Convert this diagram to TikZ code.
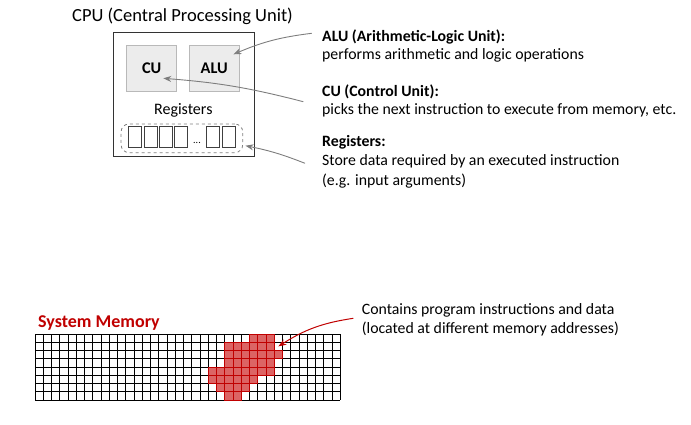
\documentclass[tikz,border=0pt]{standalone}
\usepackage{fontspec}
\setmainfont{Carlito}
\usetikzlibrary{arrows.meta}

\definecolor{boxgray}{RGB}{236,236,236}
\definecolor{edgegray}{RGB}{185,185,185}
\definecolor{arrowgray}{RGB}{125,125,125}
\definecolor{memred}{RGB}{192,0,0}
\definecolor{cellred}{RGB}{220,100,100}

\begin{document}
\begin{tikzpicture}[x=1pt,y=-1pt,
    unit/.style={draw=edgegray,fill=boxgray,line width=0.8pt,minimum width=49.7pt,minimum height=46pt,font=\fontsize{16.3}{18}\selectfont\bfseries},
    reg/.style={draw=black!75,line width=0.8pt,minimum width=13pt,minimum height=21.7pt,inner sep=0pt},
    note/.style={anchor=west,inner sep=0pt,font=\fontsize{15.8}{18}\selectfont},
    notehead/.style={note,font=\fontsize{15.8}{18}\selectfont\bfseries},
    pointer/.style={draw=arrowgray,line width=0.9pt,-{Stealth[length=8pt,width=6pt]}}]
                \useasboundingbox (0,0) rectangle (691,424);
                % CPU
                \node (cputitle) at (182.5,16) {\fontsize{18.5}{20}\selectfont CPU (Central Processing Unit)};
                \node[draw=black!80, line width=1pt, minimum width=141pt, minimum height=124pt] (cpu) at (183.6,94) {};
                \node[unit] (cu) at (151.7,68.7) {CU};
                \node[unit] (alu) at (214.2,68.7) {ALU};
                \node[font=\fontsize{16}{18}\selectfont] (reglabel) at (183.3,110.7) {Registers};
                \node[draw=gray, dashed, line width=0.8pt, rounded corners=8pt, minimum width=121.7pt, minimum height=28.7pt] (regs) at (181.9,138.3) {};
                \foreach \i/\xc in {1/135,2/150.4,3/165.8,4/181.2,5/213,6/228.4}
                    \node[reg] (r\i) at (\xc,136.9) {};
                \node[inner sep=0pt, font=\fontsize{10}{10}\selectfont] (rdots) at (197,142.5) {...};
                % notes
                \node[notehead] (alutitle) at (322,37) {ALU (Arithmetic-Logic Unit):};
                \node[note] (alutext) at (322,55) {performs arithmetic and logic operations};
                \node[notehead] (cutitle) at (322,91.7) {CU (Control Unit):};
                \node[note] (cutext) at (322,110) {picks the next instruction to execute from memory, etc.};
                \node[notehead] (regtitle) at (322,142.7) {Registers:};
                \node[note] (regtext) at (322,161.7) {Store data required by an executed instruction};
                \node[note] (regtext2) at (322,181.2) {(e.g. input arguments)};
                \coordinate (alufrom) at (311.7,33.3);
                \coordinate (cufrom) at (303.3,101.7);
                \coordinate (regfrom) at (305,163.3);
                \coordinate (aluin) at ([xshift=-6pt,yshift=-9pt]alu.north east);
                \coordinate (cuin) at ([xshift=11.6pt,yshift=-9.6pt]cu.center);
                \coordinate (regin) at ([xshift=2.3pt,yshift=-7.4pt]regs.east);
                \draw[pointer] (alufrom) to[bend right=8] (aluin);
                \draw[pointer] (cufrom) to[bend right=5] (cuin);
                \draw[pointer] (regfrom) to[bend right=5] (regin);
                % memory
                \node[font=\fontsize{18}{20}\selectfont\bfseries, text=memred] (memtitle) at (99,323) {System Memory};
                \foreach \c in {0,...,37}
                    \draw[line width=0.8pt] ({35+\c*8.25},334) -- ++(0,66);
                \foreach \r in {0,...,8}
                    \draw[line width=0.8pt] (35,{334+\r*8.25}) -- ++(305.25,0);
                \foreach \r/\a/\b in {0/26/28,1/23/28,2/23/29,3/23/28,4/21/28,5/21/26,6/22/25,7/23/24}
                    \foreach \c in {\a,...,\b}
                        \filldraw[fill=cellred, draw=memred, line width=0.8pt] ({35+\c*8.25},{334+\r*8.25}) rectangle ++(8.25,8.25);
                \node[note] (memtext) at (361.7,310) {Contains program instructions and data};
                \node[note] (memtext2) at (361.7,329.3) {(located at different memory addresses)};
                \coordinate (memfrom) at (353.3,318.3);
                \coordinate (memin) at ({35+29.5*8.25},{334+1.5*8.25});
                \draw[draw=memred, line width=1pt, -{Stealth[length=8pt,width=6pt]}] (memfrom) to[bend right=12] (memin);
            \end{tikzpicture}
\end{document}
